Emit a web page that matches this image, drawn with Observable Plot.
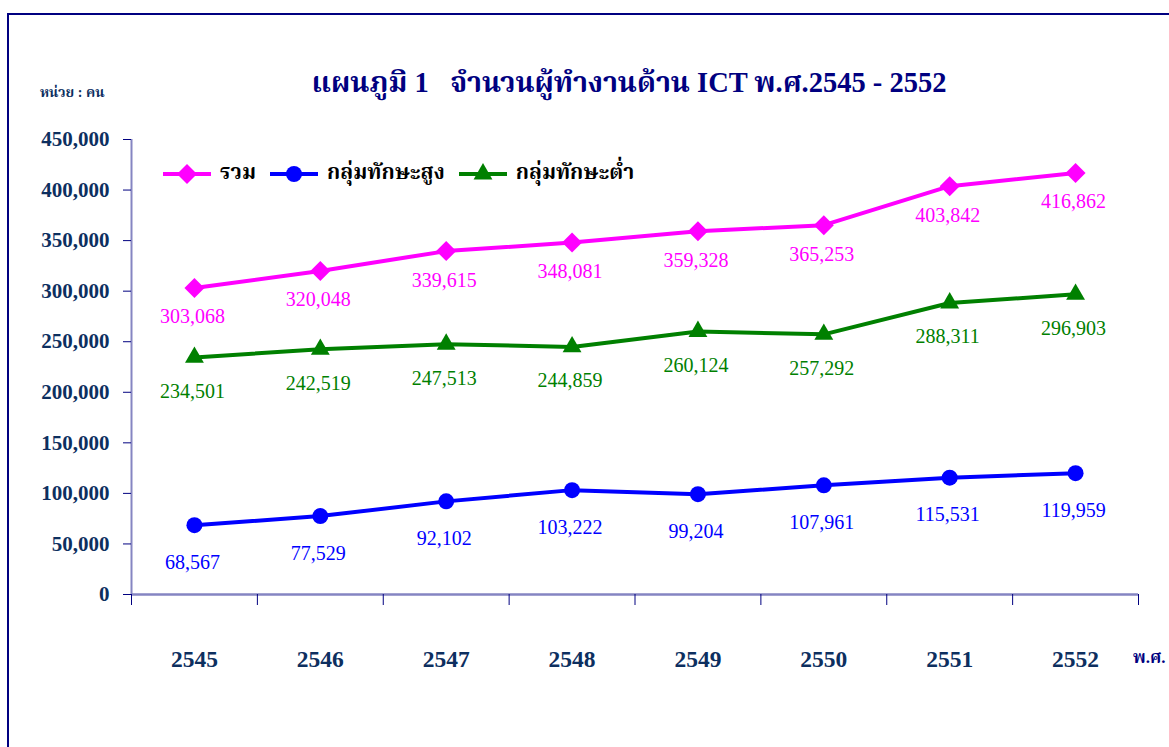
<!DOCTYPE html>
<html>
<head>
<meta charset="utf-8">
<script src="https://cdn.jsdelivr.net/npm/d3@7"></script>
<script src="https://cdn.jsdelivr.net/npm/@observablehq/plot@0.6"></script>
<style>
  html, body { margin: 0; padding: 0; background: #fff; }
  #wrap { position: relative; width: 1169px; height: 747px; overflow: hidden; font-family: "Liberation Serif", "Noto Serif Thai", "Noto Sans Thai", serif; }
  #frame { position: absolute; left: 7px; top: 13px; width: 1300px; height: 900px; border: 2px solid #000080; box-sizing: border-box; }
  #title { position: absolute; left: 0; width: 1258px; top: 62px; text-align: center; font-size: 28.5px; font-weight: bold; color: #000080; white-space: pre; }
  #unit { position: absolute; left: 40px; top: 82px; font-size: 14px; font-weight: bold; color: #0d2f5f; }
  #xunit { position: absolute; left: 1133px; top: 645px; font-size: 17px; font-weight: bold; color: #000080; }
  #legend { position: absolute; left: 163px; top: 157px; display: flex; align-items: center; font-size: 21px; font-weight: bold; color: #000; }
  #legend .item { display: flex; align-items: center; margin-right: 14px; }
  #legend svg { margin-right: 9px; }
  #chart { position: absolute; left: 0; top: 0; }
</style>
</head>
<body>
<div id="wrap">
  <div id="frame"></div>
  <div id="chart"></div>
  <div id="title">แผนภูมิ 1   จำนวนผู้ทำงานด้าน ICT พ.ศ.2545 - 2552</div>
  <div id="unit">หน่วย : คน</div>
  <div id="xunit">พ.ศ.</div>
  <div id="legend"></div>
</div>
<script>
const years = [2545, 2546, 2547, 2548, 2549, 2550, 2551, 2552];
const total = [303068, 320048, 339615, 348081, 359328, 365253, 403842, 416862];
const highSkill = [68567, 77529, 92102, 103222, 99204, 107961, 115531, 119959];
const lowSkill = [234501, 242519, 247513, 244859, 260124, 257292, 288311, 296903];
const seriesNames = ["รวม", "กลุ่มทักษะสูง", "กลุ่มทักษะต่ำ"];
const seriesColors = ["#ff00ff", "#0000ff", "#008000"];
const seriesSymbols = ["diamond2", "circle", "triangle2"];
const yTicks = [0, 50000, 100000, 150000, 200000, 250000, 300000, 350000, 400000, 450000];

const seriesValues = [total, highSkill, lowSkill];
const labelDy = [29, 37, 34];
const data = [];
seriesValues.forEach((vals, si) => vals.forEach((v, i) => data.push({series: seriesNames[si], year: years[i], value: v, si})));
const bounds = [years[0] - 0.5, ...years.map(y => y + 0.5)];
const fmt = d3.format(",");

const marks = [
  Plot.ruleX([bounds[0]], {y1: 0, y2: yTicks[yTicks.length - 1], stroke: "#8585c2", strokeWidth: 2}),
  Plot.ruleY([0], {x1: bounds[0], x2: bounds[bounds.length - 1], stroke: "#8585c2", strokeWidth: 2.5}),
  Plot.axisY({ticks: yTicks, tickFormat: fmt, tickSize: 8, tickPadding: 14, stroke: "#000080", fill: "#0d2f5f", fontSize: 21, fontWeight: "bold", label: null}),
  Plot.axisX({ticks: bounds, tickFormat: () => "", tickSize: 11, stroke: "#000080", label: null}),
  Plot.axisX({ticks: years, tickFormat: d => String(d), tickSize: 0, tickPadding: 56, fill: "#0d2f5f", fontSize: 23.5, fontWeight: "bold", label: null})
];
seriesNames.forEach((name, si) => {
  const d = data.filter(r => r.si === si);
  marks.push(Plot.line(d, {x: "year", y: "value", stroke: seriesColors[si], strokeWidth: 4}));
  marks.push(Plot.dot(d, {x: "year", y: "value", symbol: seriesSymbols[si], fill: seriesColors[si], r: si === 1 ? 8 : 9, stroke: "none"}));
  marks.push(Plot.text(d, {x: "year", y: "value", text: r => fmt(r.value), dy: labelDy[si], dx: -2, fill: seriesColors[si], fontSize: 20, fontFamily: "Liberation Serif"}));
});

const chart = Plot.plot({
  width: 1169,
  height: 747,
  marginLeft: 131,
  marginRight: 31,
  marginTop: 139,
  marginBottom: 153,
  style: {background: "transparent", fontFamily: "Liberation Serif, serif", overflow: "visible"},
  x: {type: "linear", domain: [bounds[0], bounds[bounds.length - 1]]},
  y: {domain: [0, 450000]},
  marks
});
document.getElementById("chart").appendChild(chart);

// legend
const leg = document.getElementById("legend");
seriesNames.forEach((name, si) => {
  const item = document.createElement("div");
  item.className = "item";
  const sym = d3.symbol(si === 0 ? d3.symbolDiamond2 : si === 1 ? d3.symbolCircle : d3.symbolTriangle2, si === 1 ? 201 : 254)();
  item.innerHTML = `<svg width="48" height="24"><line x1="0" x2="48" y1="12" y2="12" stroke="${seriesColors[si]}" stroke-width="4"/><path d="${sym}" transform="translate(24,12)" fill="${seriesColors[si]}"/></svg><span>${name}</span>`;
  leg.appendChild(item);
});
</script>
</body>
</html>
